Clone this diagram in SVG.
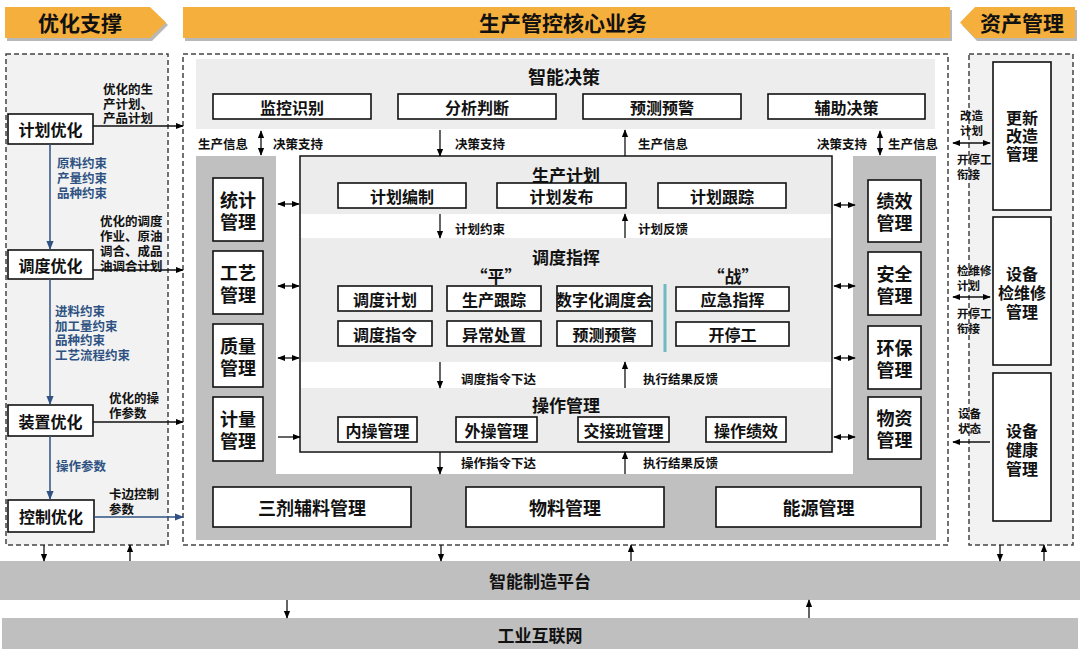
<svg xmlns="http://www.w3.org/2000/svg" width="1080" height="655" viewBox="0 0 1080 655">
<defs>
<marker id="ah" viewBox="0 0 10 10" refX="9" refY="5" markerWidth="8" markerHeight="8" markerUnits="userSpaceOnUse" orient="auto-start-reverse"><path d="M0,1 L10,5 L0,9 z" fill="#000"/></marker>
<marker id="ahb" viewBox="0 0 10 10" refX="9" refY="5" markerWidth="9" markerHeight="9" markerUnits="userSpaceOnUse" orient="auto-start-reverse"><path d="M0,1 L10,5 L0,9 z" fill="#2f5283"/></marker>
<style>
text{font-family:"Noto Sans CJK SC","Noto Sans",sans-serif;font-weight:bold;fill:#111;dominant-baseline:central}
.hd{font-size:21px;text-anchor:middle}
.t18{font-size:18px;text-anchor:middle}
.t17{font-size:17px;text-anchor:middle}
.t16{font-size:16px;text-anchor:middle}
.sm{font-size:12.5px}
.smc{font-size:11.5px}
.bl{font-size:12.5px;fill:#2f5283}
.box{fill:#fff;stroke:#111;stroke-width:1.6}
.dash{stroke:#444;stroke-width:1.5;stroke-dasharray:5,3}
.ar{stroke:#111;stroke-width:1.3;fill:none;marker-end:url(#ah)}
.ar2{stroke:#111;stroke-width:1.3;fill:none;marker-end:url(#ah);marker-start:url(#ah)}
.arb{stroke:#2f5283;stroke-width:1.5;fill:none;marker-end:url(#ahb)}
.hdr{fill:#f5af3c}
.shd{fill:#b8b8b8}
</style>
</defs>

<g id="headers">
<polygon class="shd" points="7,10 152,10 168,25 152,41 7,41"/>
<polygon class="hdr" points="5,7 150,7 166,22.5 150,38 5,38"/>
<text class="hd" x="80" y="22">优化支撑</text>
<rect class="shd" x="185" y="10" width="767" height="31"/>
<rect class="hdr" x="183" y="7" width="767" height="31"/>
<text class="hd" x="563" y="22">生产管控核心业务</text>
<polygon class="shd" points="977,10 1077,10 1077,41 977,41 962,25"/>
<polygon class="hdr" points="975,7 1075,7 1075,38 975,38 960,22.5"/>
<text class="hd" x="1022" y="22">资产管理</text>
</g>

<g id="panels">
<rect class="dash" x="6" y="54" width="162" height="491" fill="#f2f2f2"/>
<rect class="dash" x="183" y="54" width="765" height="491" fill="#fff"/>
<rect class="dash" x="969" y="54" width="104" height="491" fill="#f2f2f2"/>
</g>

<g id="platforms">
<rect x="0" y="561" width="1080" height="39" fill="#bfbfbf"/>
<text class="t17" x="540" y="580">智能制造平台</text>
<rect x="2" y="618" width="1076" height="31" fill="#bfbfbf"/>
<text class="t17" x="540" y="634">工业互联网</text>
</g>

<g id="left-panel">
<g id="n-jhyh"><rect class="box" x="8" y="114" width="85" height="30"/><text class="t16" x="50.5" y="129">计划优化</text></g>
<g id="n-ddyh"><rect class="box" x="8" y="250" width="85" height="29"/><text class="t16" x="50.5" y="265">调度优化</text></g>
<g id="n-zzyh"><rect class="box" x="8" y="405" width="85" height="31"/><text class="t16" x="50.5" y="421">装置优化</text></g>
<g id="n-kzyh"><rect class="box" x="8" y="500" width="86" height="32"/><text class="t16" x="51" y="516">控制优化</text></g>
<text class="bl" x="57" y="162">原料约束<tspan x="57" dy="15">产量约束</tspan><tspan x="57" dy="15">品种约束</tspan></text>
<text class="bl" x="55" y="310">进料约束<tspan x="55" dy="14.5">加工量约束</tspan><tspan x="55" dy="14.5">品种约束</tspan><tspan x="55" dy="15">工艺流程约束</tspan></text>
<text class="bl" x="56" y="465">操作参数</text>
<text class="sm" x="103" y="88">优化的生<tspan x="103" dy="15">产计划、</tspan><tspan x="103" dy="14">产品计划</tspan></text>
<text class="sm" x="100" y="220">优化的调度<tspan x="100" dy="15">作业、原油</tspan><tspan x="100" dy="15">调合、成品</tspan><tspan x="100" dy="15">油调合计划</tspan></text>
<text class="sm" x="109" y="397">优化的操<tspan x="109" dy="15">作参数</tspan></text>
<text class="sm" x="109" y="493">卡边控制<tspan x="109" dy="15">参数</tspan></text>
</g>

<g id="center-panel">
<rect x="196" y="59" width="739" height="70" fill="#ededed"/>
<text class="t18" x="564" y="76">智能决策</text>
<g id="n-jkss"><rect class="box" x="213" y="94" width="158" height="25"/><text class="t16" x="292" y="106.5">监控识别</text></g>
<g id="n-fxpd"><rect class="box" x="398" y="94" width="158" height="25"/><text class="t16" x="477" y="106.5">分析判断</text></g>
<g id="n-ycyj"><rect class="box" x="583" y="94" width="158" height="25"/><text class="t16" x="662" y="106.5">预测预警</text></g>
<g id="n-fzjc"><rect class="box" x="768" y="94" width="157" height="25"/><text class="t16" x="846.5" y="106.5">辅助决策</text></g>
<text class="sm" x="198" y="143">生产信息</text>
<text class="sm" x="273" y="143">决策支持</text>
<text class="sm" x="455" y="143">决策支持</text>
<text class="sm" x="638" y="143">生产信息</text>
<text class="sm" x="817" y="143">决策支持</text>
<text class="sm" x="888" y="143">生产信息</text>

<rect x="196" y="156" width="80" height="384" fill="#c0c0c0"/>
<rect x="853" y="156" width="83" height="384" fill="#c0c0c0"/>
<rect x="196" y="474" width="740" height="66" fill="#c0c0c0"/>

<rect x="300" y="156" width="532" height="296" fill="#fff" stroke="#111" stroke-width="1.5"/>
<rect x="301" y="157" width="530" height="57" fill="#ececec"/>
<rect x="301" y="238" width="530" height="124" fill="#ececec"/>
<rect x="301" y="388" width="530" height="63" fill="#ececec"/>

<text class="t17" x="566" y="174">生产计划</text>
<g id="n-jhbz"><rect class="box" x="338" y="183" width="128" height="25"/><text class="t16" x="402" y="195.5">计划编制</text></g>
<g id="n-jhfb"><rect class="box" x="497" y="183" width="129" height="25"/><text class="t16" x="561.5" y="195.5">计划发布</text></g>
<g id="n-jhgz"><rect class="box" x="658" y="183" width="128" height="25"/><text class="t16" x="722" y="195.5">计划跟踪</text></g>
<text class="sm" x="455" y="228">计划约束</text>
<text class="sm" x="638" y="228">计划反馈</text>

<text class="t17" x="566" y="256">调度指挥</text>
<text class="t17" x="496" y="275">“平”</text>
<text class="t17" x="733" y="275">“战”</text>
<g id="n-ddjh"><rect class="box" x="338" y="286" width="94" height="25"/><text class="t16" x="385" y="298.5">调度计划</text></g>
<g id="n-scgz"><rect class="box" x="447" y="286" width="94" height="25"/><text class="t16" x="494" y="298.5">生产跟踪</text></g>
<g id="n-szh"><rect class="box" x="557" y="286" width="95" height="25"/><text class="t16" x="604" y="298.5">数字化调度会</text></g>
<g id="n-ddzl"><rect class="box" x="338" y="321" width="94" height="25"/><text class="t16" x="385" y="333.5">调度指令</text></g>
<g id="n-yccz"><rect class="box" x="447" y="321" width="94" height="25"/><text class="t16" x="494" y="333.5">异常处置</text></g>
<g id="n-ycyj2"><rect class="box" x="557" y="321" width="95" height="25"/><text class="t16" x="604.5" y="333.5">预测预警</text></g>
<line x1="665" y1="284" x2="665" y2="352" stroke="#6fb9c0" stroke-width="3"/>
<g id="n-yjzh"><rect class="box" x="676" y="287" width="113" height="24"/><text class="t16" x="732.5" y="299">应急指挥</text></g>
<g id="n-ktg"><rect class="box" x="676" y="322" width="113" height="24"/><text class="t16" x="732.5" y="334">开停工</text></g>
<text class="sm" x="461" y="378">调度指令下达</text>
<text class="sm" x="643" y="378">执行结果反馈</text>

<text class="t17" x="566" y="404">操作管理</text>
<g id="n-ncgl"><rect class="box" x="338" y="417" width="79" height="25"/><text class="t16" x="377.5" y="429.5">内操管理</text></g>
<g id="n-wcgl"><rect class="box" x="456" y="417" width="81" height="25"/><text class="t16" x="496.5" y="429.5">外操管理</text></g>
<g id="n-jjbgl"><rect class="box" x="578" y="417" width="91" height="25"/><text class="t16" x="623.5" y="429.5">交接班管理</text></g>
<g id="n-czjx"><rect class="box" x="706" y="417" width="80" height="25"/><text class="t16" x="746" y="429.5">操作绩效</text></g>
<text class="sm" x="461" y="462">操作指令下达</text>
<text class="sm" x="643" y="462">执行结果反馈</text>

<g id="n-tjgl"><rect class="box" x="213" y="178" width="50" height="63"/><text class="t18" x="238" y="199">统计<tspan x="238" dy="22">管理</tspan></text></g>
<g id="n-gygl"><rect class="box" x="213" y="251" width="50" height="63"/><text class="t18" x="238" y="272">工艺<tspan x="238" dy="22">管理</tspan></text></g>
<g id="n-zlgl"><rect class="box" x="213" y="324" width="50" height="63"/><text class="t18" x="238" y="345">质量<tspan x="238" dy="22">管理</tspan></text></g>
<g id="n-jlgl"><rect class="box" x="213" y="397" width="50" height="64"/><text class="t18" x="238" y="418">计量<tspan x="238" dy="22">管理</tspan></text></g>

<g id="n-jxgl"><rect class="box" x="868" y="180" width="53" height="62"/><text class="t18" x="894.5" y="200">绩效<tspan x="894.5" dy="22">管理</tspan></text></g>
<g id="n-aqgl"><rect class="box" x="868" y="252" width="53" height="63"/><text class="t18" x="894.5" y="273">安全<tspan x="894.5" dy="22">管理</tspan></text></g>
<g id="n-hbgl"><rect class="box" x="868" y="326" width="53" height="63"/><text class="t18" x="894.5" y="347">环保<tspan x="894.5" dy="22">管理</tspan></text></g>
<g id="n-wzgl"><rect class="box" x="868" y="397" width="53" height="62"/><text class="t18" x="894.5" y="417">物资<tspan x="894.5" dy="22">管理</tspan></text></g>

<g id="n-sjfl"><rect class="box" x="213" y="487" width="198" height="40"/><text class="t18" x="312" y="507">三剂辅料管理</text></g>
<g id="n-wlgl"><rect class="box" x="466" y="487" width="198" height="40"/><text class="t18" x="565" y="507">物料管理</text></g>
<g id="n-nygl"><rect class="box" x="716" y="487" width="205" height="40"/><text class="t18" x="818.5" y="507">能源管理</text></g>
</g>

<g id="right-panel">
<g id="n-gxgz"><rect class="box" x="993" y="62" width="58" height="148"/><text class="t16" x="1022" y="117">更新<tspan x="1022" dy="18">改造</tspan><tspan x="1022" dy="18">管理</tspan></text></g>
<g id="n-jwx"><rect class="box" x="993" y="217" width="58" height="148"/><text class="t16" x="1022" y="273">设备<tspan x="1022" dy="19">检维修</tspan><tspan x="1022" dy="19">管理</tspan></text></g>
<g id="n-jk"><rect class="box" x="993" y="373" width="58" height="148"/><text class="t16" x="1022" y="430">设备<tspan x="1022" dy="19">健康</tspan><tspan x="1022" dy="19">管理</tspan></text></g>
<text class="smc" x="960" y="115">改造<tspan x="960" dy="15">计划</tspan></text>
<text class="smc" x="957" y="159">开停工<tspan x="957" dy="15">衔接</tspan></text>
<text class="smc" x="957" y="270">检维修<tspan x="957" dy="15">计划</tspan></text>
<text class="smc" x="957" y="313">开停工<tspan x="957" dy="15">衔接</tspan></text>
<text class="smc" x="958" y="413">设备<tspan x="958" dy="15">状态</tspan></text>
</g>

<g id="connectors">
<line class="arb" x1="50" y1="144" x2="50" y2="249"/>
<line class="arb" x1="50" y1="279" x2="50" y2="404"/>
<line class="arb" x1="50" y1="436" x2="50" y2="499"/>
<line class="ar" x1="93" y1="126" x2="183" y2="126"/>
<line class="ar" x1="93" y1="270" x2="183" y2="270"/>
<line class="ar" x1="93" y1="422" x2="183" y2="422"/>
<line class="arb" x1="94" y1="517" x2="183" y2="517"/>

<line class="ar2" x1="261" y1="131" x2="261" y2="155"/>
<line class="ar" x1="440" y1="130" x2="440" y2="156"/>
<line class="ar" x1="625" y1="156" x2="625" y2="130"/>
<line class="ar2" x1="880" y1="131" x2="880" y2="155"/>
<line class="ar" x1="440" y1="214" x2="440" y2="238"/>
<line class="ar" x1="625" y1="238" x2="625" y2="214"/>
<line class="ar" x1="440" y1="362" x2="440" y2="388"/>
<line class="ar" x1="625" y1="388" x2="625" y2="362"/>
<line class="ar" x1="440" y1="452" x2="440" y2="474"/>
<line class="ar" x1="625" y1="474" x2="625" y2="452"/>

<line class="ar2" x1="278" y1="204" x2="299" y2="204"/>
<line class="ar2" x1="278" y1="286" x2="299" y2="286"/>
<line class="ar2" x1="278" y1="358" x2="299" y2="358"/>
<line class="ar" x1="278" y1="437" x2="300" y2="437"/>
<line class="ar2" x1="834" y1="205" x2="855" y2="205"/>
<line class="ar2" x1="834" y1="286" x2="855" y2="286"/>
<line class="ar2" x1="834" y1="358" x2="855" y2="358"/>
<line class="ar2" x1="834" y1="437" x2="855" y2="437"/>

<line class="ar2" x1="953" y1="143" x2="990" y2="143"/>
<line class="ar2" x1="953" y1="297" x2="990" y2="297"/>
<line class="ar" x1="990" y1="442" x2="953" y2="442"/>

<line class="ar" x1="44" y1="545" x2="44" y2="561"/>
<line class="ar" x1="130" y1="561" x2="130" y2="545"/>
<line class="ar" x1="441" y1="545" x2="441" y2="561"/>
<line class="ar" x1="631" y1="561" x2="631" y2="545"/>
<line class="ar" x1="1000" y1="545" x2="1000" y2="561"/>
<line class="ar" x1="1044" y1="561" x2="1044" y2="545"/>
<line class="ar" x1="287" y1="600" x2="287" y2="618"/>
<line class="ar" x1="809" y1="618" x2="809" y2="600"/>
</g>
</svg>
